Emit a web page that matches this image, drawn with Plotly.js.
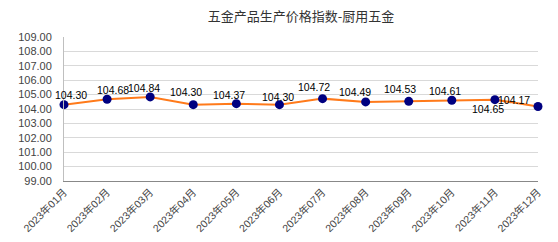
<!DOCTYPE html>
<html><head><meta charset="utf-8">
<script src="https://cdn.plot.ly/plotly-3.0.1.min.js"></script>
<style>html,body{margin:0;padding:0;background:#fff}#c{width:558px;height:242px}</style>
</head><body><div id="c"></div>
<script>
const months = ["2023年01月","2023年02月","2023年03月","2023年04月","2023年05月","2023年06月","2023年07月","2023年08月","2023年09月","2023年10月","2023年11月","2023年12月"];
const values = [104.30,104.68,104.84,104.30,104.37,104.30,104.72,104.49,104.53,104.61,104.65,104.17];
const yTicks = [99,100,101,102,103,104,105,106,107,108,109];
const titleText = "五金产品生产价格指数-厨用五金";

// label offsets (pixels) relative to each point
const labelDx = [7, 6, -6, -7, -7, -1, -9, -11, -9, -7, -7, -24];
const labelDy = [10, 9, 9, 13, 9, 8, 12, 10, 12, 9, -9, 7];

const FONT = "Liberation Sans, Arial, Noto Sans CJK SC, sans-serif";

const annotations = months.map((m, i) => ({
  x: m, y: values[i], xref: "x", yref: "y",
  text: values[i].toFixed(2), showarrow: false,
  xshift: labelDx[i], yshift: labelDy[i],
  xanchor: "center", yanchor: "middle",
  font: {family: FONT, size: 10.5, color: "#000"}
}));

Plotly.newPlot("c", [{
  x: months, y: values, type: "scatter", mode: "lines+markers",
  line: {color: "#ff7a1a", width: 2},
  marker: {color: "#000080", size: 9},
  cliponaxis: false, hoverinfo: "none"
}], {
  width: 558, height: 242,
  margin: {l: 64, r: 20, t: 37, b: 61},
  paper_bgcolor: "#fff", plot_bgcolor: "#fff",
  showlegend: false,
  annotations: annotations,
  title: {text: titleText, x: 0.5, xref: "paper", xanchor: "center", y: 0.93, yanchor: "middle",
          font: {family: "Noto Sans CJK SC, sans-serif", size: 13, color: "#333"}},
  xaxis: {type: "category", range: [0, months.length - 1], showgrid: false,
          showline: true, linecolor: "#888", linewidth: 1, ticks: "",
          tickangle: -45, tickfont: {family: FONT, size: 10.5, color: "#444"}, fixedrange: true},
  yaxis: {range: [99, 109], tickvals: yTicks, ticktext: yTicks.map(v => v.toFixed(2)),
          showgrid: true, gridcolor: "#d9d9d9", gridwidth: 1, zeroline: false,
          showline: true, linecolor: "#bfbfbf", ticks: "", ticklabelstandoff: 9,
          tickfont: {family: FONT, size: 11, color: "#444"}, fixedrange: true}
}, {staticPlot: true});
</script></body></html>
